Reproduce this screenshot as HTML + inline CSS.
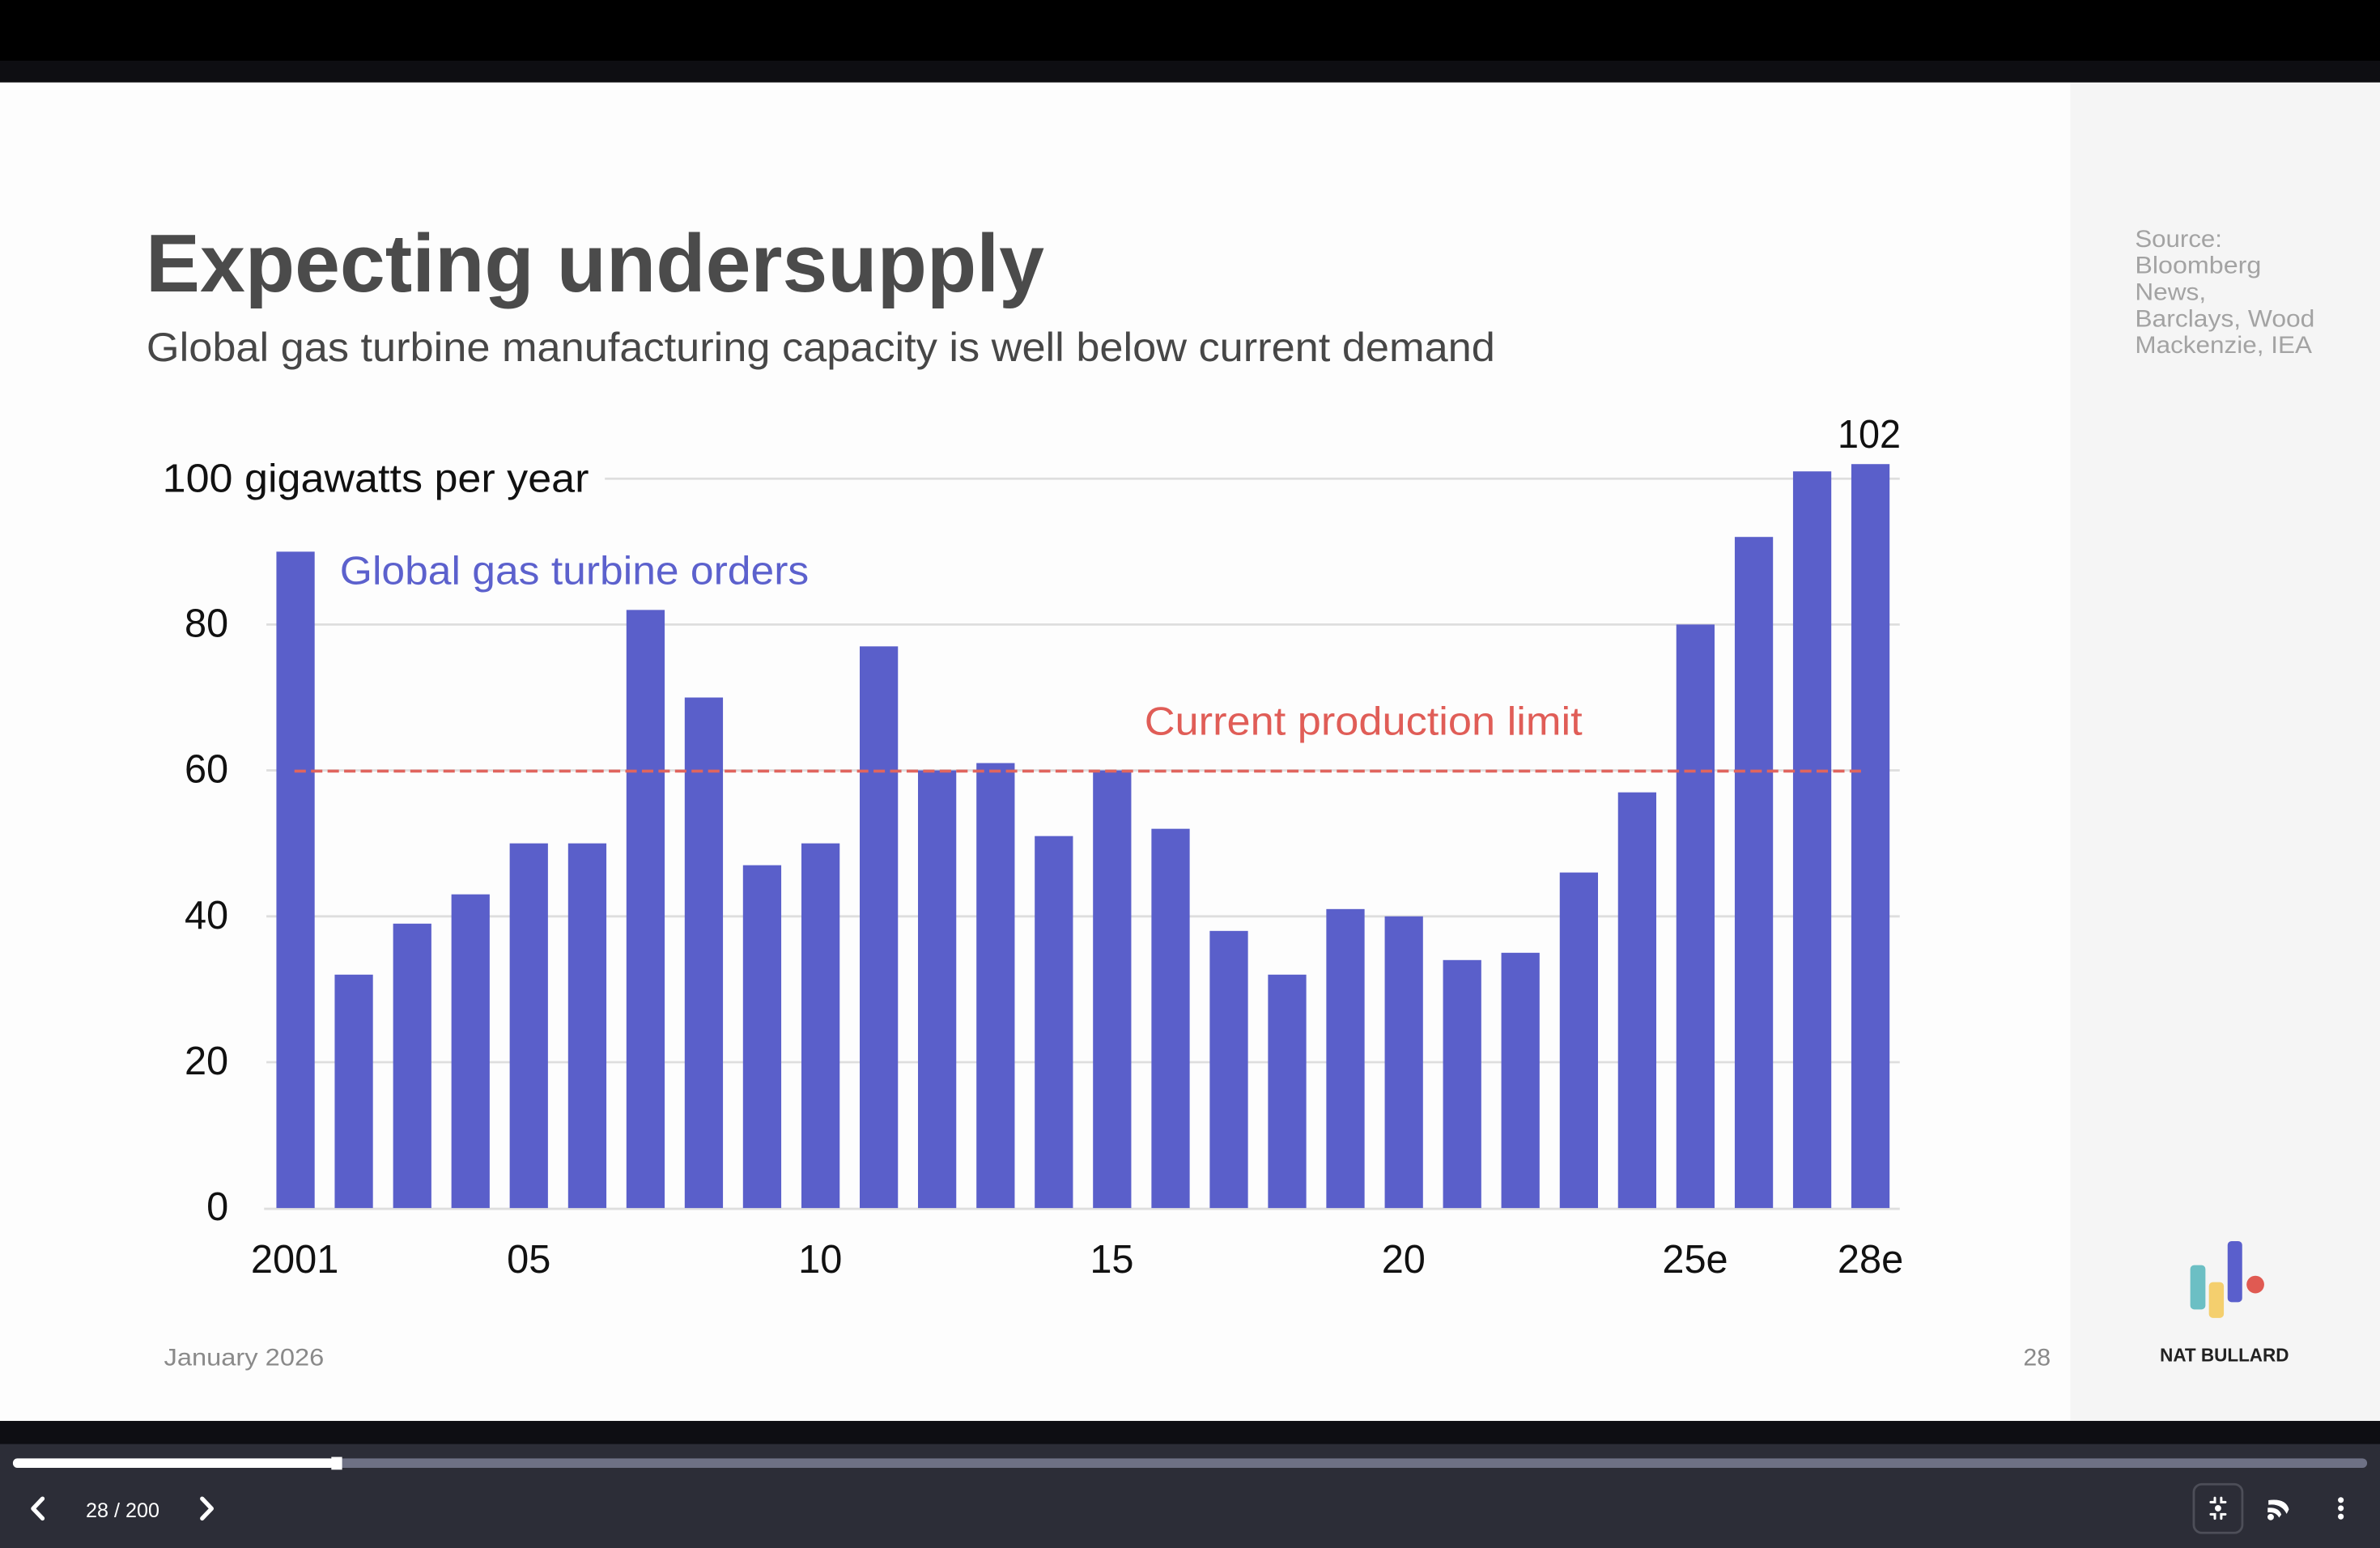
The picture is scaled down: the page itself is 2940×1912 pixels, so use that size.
<!DOCTYPE html>
<html>
<head>
<meta charset="utf-8">
<style>
html,body{margin:0;padding:0;background:#000;width:2940px;height:1912px;overflow:hidden}
svg{display:block}
</style>
</head>
<body>
<svg width="2940" height="1912" viewBox="0 0 1568 1020" preserveAspectRatio="none" xmlns="http://www.w3.org/2000/svg" font-family="'Liberation Sans', Arial, sans-serif">
  <!-- top bars -->
  <rect x="0" y="0" width="1568" height="40" fill="#000000"/>
  <rect x="0" y="40" width="1568" height="14.3" fill="#0e0e12"/>
  <!-- slide -->
  <rect x="0" y="54.3" width="1364" height="882" fill="#fdfdfd"/>
  <rect x="1364" y="54.3" width="204" height="882" fill="#f5f5f5"/>
  <!-- bottom bars -->
  <rect x="0" y="936.3" width="1568" height="15.5" fill="#0e0e13"/>
  <rect x="0" y="951.5" width="1568" height="68.5" fill="#2c2d37"/>

  <!-- title -->
  <text x="96" y="192" font-size="54" font-weight="bold" fill="#4b4b4b" textLength="592" lengthAdjust="spacingAndGlyphs">Expecting undersupply</text>
  <text x="96.5" y="238" font-size="26.5" fill="#474747" textLength="888.5" lengthAdjust="spacingAndGlyphs">Global gas turbine manufacturing capacity is well below current demand</text>

  <!-- source -->
  <g font-size="16" fill="#a3a3a3">
    <text x="1406.6" y="162.7" textLength="57.4" lengthAdjust="spacingAndGlyphs">Source:</text>
    <text x="1406.6" y="180" textLength="83.2" lengthAdjust="spacingAndGlyphs">Bloomberg</text>
    <text x="1406.6" y="197.7" textLength="46.8" lengthAdjust="spacingAndGlyphs">News,</text>
    <text x="1406.6" y="215.3" textLength="118.4" lengthAdjust="spacingAndGlyphs">Barclays, Wood</text>
    <text x="1406.6" y="232.6" textLength="116.6" lengthAdjust="spacingAndGlyphs">Mackenzie, IEA</text>
  </g>

  <!-- gridlines -->
  <g stroke="#dedede" stroke-width="1.5">
    <line x1="398.5" y1="315.4" x2="1251.6" y2="315.4"/>
    <line x1="175.5" y1="411.5" x2="1251.6" y2="411.5"/>
    <line x1="175.5" y1="507.6" x2="1251.6" y2="507.6"/>
    <line x1="175.5" y1="603.8" x2="1251.6" y2="603.8"/>
    <line x1="175.5" y1="699.9" x2="1251.6" y2="699.9"/>
    <line x1="174" y1="796.5" x2="1251.6" y2="796.5"/>
  </g>

  <!-- y labels -->
  <g font-size="26" fill="#111" text-anchor="end">
    <text x="150.5" y="419.5">80</text>
    <text x="150.5" y="515.6">60</text>
    <text x="150.5" y="611.8">40</text>
    <text x="150.5" y="707.9">20</text>
    <text x="150.5" y="804">0</text>
  </g>
  <text x="107" y="324" font-size="26" fill="#111" textLength="281" lengthAdjust="spacingAndGlyphs">100 gigawatts per year</text>

  <!-- bars -->
  <g fill="#5a5fca">
    <rect x="182.1" y="363.5" width="25.2" height="432.5"/>
    <rect x="220.5" y="642.2" width="25.2" height="153.8"/>
    <rect x="259.0" y="608.6" width="25.2" height="187.4"/>
    <rect x="297.4" y="589.3" width="25.2" height="206.7"/>
    <rect x="335.8" y="555.7" width="25.2" height="240.3"/>
    <rect x="374.3" y="555.7" width="25.2" height="240.3"/>
    <rect x="412.7" y="401.9" width="25.2" height="394.1"/>
    <rect x="451.1" y="459.6" width="25.2" height="336.4"/>
    <rect x="489.5" y="570.1" width="25.2" height="225.9"/>
    <rect x="528.0" y="555.7" width="25.2" height="240.3"/>
    <rect x="566.4" y="425.9" width="25.2" height="370.1"/>
    <rect x="604.8" y="507.6" width="25.2" height="288.4"/>
    <rect x="643.3" y="502.8" width="25.2" height="293.2"/>
    <rect x="681.7" y="550.9" width="25.2" height="245.1"/>
    <rect x="720.1" y="507.6" width="25.2" height="288.4"/>
    <rect x="758.6" y="546.1" width="25.2" height="249.9"/>
    <rect x="797.0" y="613.4" width="25.2" height="182.6"/>
    <rect x="835.4" y="642.2" width="25.2" height="153.8"/>
    <rect x="873.8" y="599.0" width="25.2" height="197.0"/>
    <rect x="912.3" y="603.8" width="25.2" height="192.2"/>
    <rect x="950.7" y="632.6" width="25.2" height="163.4"/>
    <rect x="989.1" y="627.8" width="25.2" height="168.2"/>
    <rect x="1027.6" y="574.9" width="25.2" height="221.1"/>
    <rect x="1066.0" y="522.1" width="25.2" height="273.9"/>
    <rect x="1104.4" y="411.5" width="25.2" height="384.5"/>
    <rect x="1142.9" y="353.8" width="25.2" height="442.2"/>
    <rect x="1181.3" y="310.6" width="25.2" height="485.4"/>
    <rect x="1219.7" y="305.8" width="25.2" height="490.2"/>
  </g>

  <!-- production limit dashed line -->
  <line x1="194" y1="508.1" x2="1229.5" y2="508.1" stroke="#e0655e" stroke-width="1.9" stroke-dasharray="7.5 3.4"/>

  <!-- annotations -->
  <text x="223.9" y="385" font-size="26" fill="#5c61cd" textLength="309" lengthAdjust="spacingAndGlyphs">Global gas turbine orders</text>
  <text x="754" y="484" font-size="26" fill="#e05d57" textLength="288.5" lengthAdjust="spacingAndGlyphs">Current production limit</text>
  <text x="1210.7" y="295" font-size="26" fill="#111" textLength="41.6" lengthAdjust="spacingAndGlyphs">102</text>

  <!-- x labels -->
  <g font-size="26" fill="#111" text-anchor="middle">
    <text x="194.2" y="838.5">2001</text>
    <text x="348.4" y="838.5">05</text>
    <text x="540.4" y="838.5">10</text>
    <text x="732.5" y="838.5">15</text>
    <text x="924.7" y="838.5">20</text>
    <text x="1116.8" y="838.5">25e</text>
    <text x="1232.3" y="838.5">28e</text>
  </g>

  <!-- footer -->
  <text x="108" y="899.6" font-size="16" fill="#8a8a8a" textLength="105.5" lengthAdjust="spacingAndGlyphs">January 2026</text>
  <text x="1333" y="899.6" font-size="16" fill="#8a8a8a" textLength="18" lengthAdjust="spacingAndGlyphs">28</text>

  <!-- logo -->
  <rect x="1443" y="833.6" width="10" height="29.2" rx="2.6" fill="#6cbfc4"/>
  <rect x="1455.3" y="844.8" width="9.8" height="23.6" rx="2.6" fill="#f4cf6e"/>
  <rect x="1467.6" y="817.8" width="9.6" height="40.2" rx="2.6" fill="#5a5fcc"/>
  <circle cx="1485.9" cy="846.4" r="5.8" fill="#e05a52"/>
  <text x="1423" y="897" font-size="12.5" font-weight="bold" fill="#222" textLength="85" lengthAdjust="spacingAndGlyphs">NAT BULLARD</text>

  <!-- progress bar -->
  <rect x="8.5" y="961" width="1551" height="6.2" rx="3" fill="#6e7185"/>
  <rect x="8.5" y="961" width="212" height="6.2" rx="3" fill="#ffffff"/>
  <rect x="218.3" y="960" width="7.1" height="8.4" fill="#ffffff"/>

  <!-- nav controls -->
  <polyline points="28,987.5 21.8,994 28,1000.5" fill="none" stroke="#fff" stroke-width="2.8" stroke-linecap="round" stroke-linejoin="round"/>
  <text x="80.8" y="999.8" font-size="13.5" fill="#fff" text-anchor="middle" textLength="48.5" lengthAdjust="spacingAndGlyphs">28 / 200</text>
  <polyline points="133.2,987.5 139.4,994 133.2,1000.5" fill="none" stroke="#fff" stroke-width="2.8" stroke-linecap="round" stroke-linejoin="round"/>

  <!-- right icons -->
  <rect x="1445.3" y="978" width="32" height="32" rx="5.3" fill="none" stroke="#4d4e58" stroke-width="1.5"/>
  <g stroke="#fff" stroke-width="1.6" fill="none" stroke-linecap="round">
    <polyline points="1456.5,989.8 1459.2,989.8 1459.2,987"/>
    <polyline points="1466.1,989.8 1463.4,989.8 1463.4,987"/>
    <polyline points="1456.5,997.8 1459.2,997.8 1459.2,1000.6"/>
    <polyline points="1466.1,997.8 1463.4,997.8 1463.4,1000.6"/>
  </g>
  <circle cx="1461.3" cy="993.8" r="2.1" fill="#fff"/>
  <g fill="#fff">
    <path d="M1494.5,988.5 Q1506,987 1508,994.5 L1506.5,997.5 Q1503,990.5 1494.5,991.5 Z"/>
    <path d="M1494,993.5 Q1501.5,993 1503,998 L1501.5,1000 Q1499.5,996 1494,996.5 Z"/>
    <circle cx="1496" cy="999.6" r="2.1"/>
  </g>
  <circle cx="1542.2" cy="988.4" r="1.9" fill="#fff"/>
  <circle cx="1542.2" cy="993.8" r="1.9" fill="#fff"/>
  <circle cx="1542.2" cy="999.3" r="1.9" fill="#fff"/>
</svg>
</body>
</html>
